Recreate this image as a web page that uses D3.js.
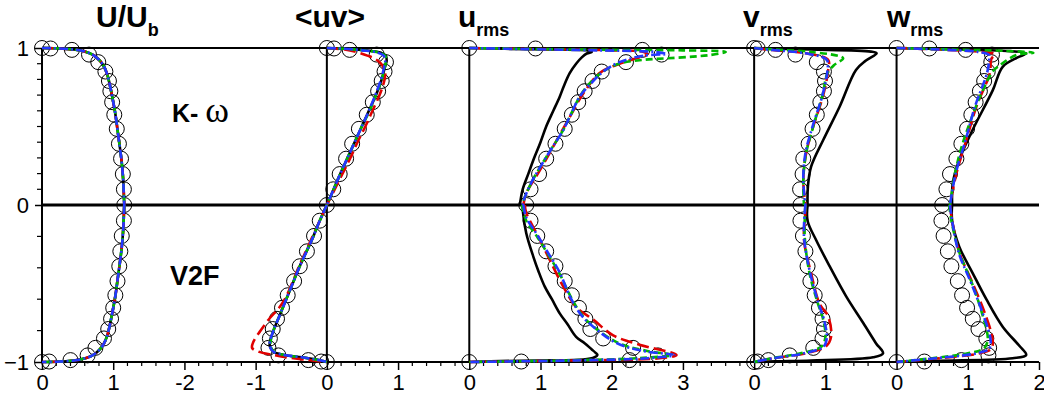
<!DOCTYPE html>
<html>
<head>
<meta charset="utf-8">
<script src="https://cdn.jsdelivr.net/npm/d3@7"></script>
<style>
  body { margin: 0; background: #fff; }
  text { font-family: "Liberation Sans", Arial, sans-serif; }
</style>
</head>
<body>
<div id="chart"></div>
<script>
var width = 1044, height = 403;

// wall-normal positions of the DNS samples (upper half / lower half)
var yDnsTop = [1, 0.997, 0.988, 0.958, 0.91, 0.85, 0.79, 0.725, 0.655, 0.575, 0.485, 0.39, 0.295, 0.197, 0.1, 0];
var yDnsBot = [-1, -0.997, -0.988, -0.958, -0.91, -0.85, -0.79, -0.725, -0.655, -0.575, -0.485, -0.39, -0.295, -0.197, -0.1];

// panel zero positions on the shared x axis
var panelOffsets = [0, 4, 6, 10, 12];
var tickLabels = ['0', '1', '-2', '-1', '0', '1', '0', '1', '2', '3', '0', '1', '0', '1', '2'];
var yMinorTicks = [0.1, 0.2, 0.3, 0.4, 0.5, 0.6, 0.7, 0.8, 0.9, -0.2, -0.4, -0.6, -0.8];

// ---- U/Ub ----
var uDnsTop = [0, 0.12, 0.42, 0.66, 0.79, 0.89, 0.94, 0.96, 0.985, 1.015, 1.05, 1.08, 1.11, 1.135, 1.15, 1.155];
var uDnsBot = [0, 0.1, 0.4, 0.64, 0.75, 0.87, 0.93, 0.97, 1.0, 1.03, 1.06, 1.085, 1.10, 1.12, 1.15];
var uModTop = [[0, 1], [0.2, 0.998], [0.45, 0.99], [0.62, 0.975], [0.72, 0.955], [0.8, 0.925], [0.86, 0.89], [0.91, 0.84], [0.95, 0.77], [0.99, 0.68], [1.03, 0.58], [1.06, 0.48], [1.09, 0.38], [1.12, 0.27], [1.14, 0.16], [1.15, 0.06], [1.155, 0]];
var uModBot = [[1.155, 0], [1.15, -0.06], [1.14, -0.16], [1.12, -0.27], [1.09, -0.38], [1.06, -0.48], [1.03, -0.58], [0.99, -0.68], [0.95, -0.77], [0.91, -0.84], [0.86, -0.89], [0.8, -0.925], [0.72, -0.955], [0.62, -0.975], [0.45, -0.99], [0.2, -0.998], [0, -1]];

// ---- <uv> ----
var uvDnsTop = [0, 0.1, 0.32, 0.70, 0.83, 0.81, 0.77, 0.72, 0.645, 0.56, 0.45, 0.355, 0.27, 0.18, 0.09, 0];
var uvDnsBot = [0, -0.08, -0.26, -0.68, -0.82, -0.80, -0.76, -0.70, -0.63, -0.55, -0.46, -0.38, -0.28, -0.18, -0.1];
var uvBlackTop = [[0, 1], [0.25, 0.995], [0.55, 0.985], [0.76, 0.97], [0.83, 0.95], [0.84, 0.92], [0.81, 0.87], [0.77, 0.8], [0.69, 0.7], [0.59, 0.6], [0.49, 0.5], [0.39, 0.4], [0.29, 0.3], [0.19, 0.2], [0.095, 0.1], [0, 0]];
var uvRedTop = [[0, 1], [0.25, 0.99], [0.45, 0.97], [0.58, 0.95], [0.68, 0.93], [0.76, 0.9], [0.8, 0.87], [0.82, 0.83], [0.8, 0.78], [0.74, 0.7], [0.64, 0.6], [0.54, 0.5], [0.43, 0.4], [0.33, 0.3], [0.22, 0.2], [0.11, 0.1], [0, 0]];
var uvGreenTop = [[0, 1], [0.25, 0.995], [0.52, 0.985], [0.74, 0.97], [0.82, 0.95], [0.83, 0.92], [0.81, 0.87], [0.77, 0.8], [0.69, 0.7], [0.6, 0.6], [0.49, 0.5], [0.39, 0.4], [0.29, 0.3], [0.19, 0.2], [0.095, 0.1], [0, 0]];
var uvBlueTop = [[0, 1], [0.25, 0.995], [0.5, 0.985], [0.72, 0.97], [0.8, 0.95], [0.82, 0.92], [0.8, 0.87], [0.76, 0.8], [0.68, 0.7], [0.59, 0.6], [0.49, 0.5], [0.39, 0.4], [0.29, 0.3], [0.19, 0.2], [0.095, 0.1], [0, 0]];
var uvBlackBot = [[0, 0], [-0.1, -0.1], [-0.19, -0.2], [-0.29, -0.3], [-0.39, -0.4], [-0.48, -0.5], [-0.57, -0.6], [-0.66, -0.7], [-0.75, -0.8], [-0.8, -0.87], [-0.8, -0.9], [-0.75, -0.935], [-0.6, -0.955], [-0.35, -0.97], [-0.15, -0.985], [0, -1]];
var uvRedBot = [[0, 0], [-0.1, -0.1], [-0.2, -0.2], [-0.3, -0.3], [-0.4, -0.4], [-0.49, -0.5], [-0.59, -0.6], [-0.68, -0.66], [-0.8, -0.72], [-0.93, -0.8], [-1.03, -0.87], [-1.05, -0.91], [-0.96, -0.934], [-0.75, -0.955], [-0.57, -0.97], [-0.3, -0.985], [0, -1]];
var uvGreenBot = [[0, 0], [-0.1, -0.1], [-0.19, -0.2], [-0.29, -0.3], [-0.39, -0.4], [-0.48, -0.5], [-0.57, -0.6], [-0.66, -0.7], [-0.75, -0.8], [-0.79, -0.87], [-0.79, -0.9], [-0.74, -0.935], [-0.6, -0.955], [-0.36, -0.97], [-0.15, -0.985], [0, -1]];
var uvBlueBot = [[0, 0], [-0.1, -0.1], [-0.19, -0.2], [-0.29, -0.3], [-0.39, -0.4], [-0.48, -0.5], [-0.57, -0.6], [-0.66, -0.7], [-0.75, -0.8], [-0.8, -0.87], [-0.8, -0.9], [-0.75, -0.935], [-0.6, -0.955], [-0.35, -0.97], [-0.15, -0.985], [0, -1]];

// ---- u_rms ----
var urmsDnsTop = [0, 0.93, 2.43, 2.70, 2.2, 1.86, 1.73, 1.62, 1.53, 1.44, 1.34, 1.21, 1.08, 0.98, 0.86, 0.80];
var urmsDnsBot = [0, 0.73, 2.25, 2.65, 2.3, 1.88, 1.70, 1.63, 1.54, 1.44, 1.34, 1.21, 1.08, 0.955, 0.86];
var urmsBlackTop = [[0, 1], [0.5, 0.995], [1.2, 0.99], [1.7, 0.982], [1.72, 0.975], [1.65, 0.965], [1.58, 0.94], [1.5, 0.9], [1.41, 0.84], [1.33, 0.76], [1.27, 0.69], [1.18, 0.6], [1.08, 0.5], [1.0, 0.4], [0.92, 0.31], [0.83, 0.2], [0.75, 0.1], [0.71, 0]];
var urmsRedTop = [[0, 1], [1.0, 0.993], [2.0, 0.985], [2.45, 0.975], [2.5, 0.96], [2.35, 0.935], [2.11, 0.9], [1.83, 0.84], [1.6, 0.71], [1.41, 0.56], [1.2, 0.39], [0.99, 0.22], [0.8, 0.074], [0.76, 0]];
var urmsGreenTop = [[0, 1], [1.0, 0.993], [2.0, 0.988], [3.0, 0.985], [3.6, 0.975], [3.38, 0.955], [3.14, 0.945], [2.77, 0.934], [2.44, 0.924], [2.1, 0.9], [1.88, 0.85], [1.7, 0.78], [1.55, 0.69], [1.43, 0.58], [1.31, 0.47], [1.17, 0.37], [1.02, 0.26], [0.88, 0.15], [0.78, 0.05], [0.74, 0]];
var urmsBlueTop = [[0, 1], [0.8, 0.993], [1.8, 0.985], [2.6, 0.975], [2.77, 0.962], [2.46, 0.952], [2.11, 0.91], [1.88, 0.85], [1.71, 0.775], [1.55, 0.69], [1.43, 0.58], [1.31, 0.47], [1.17, 0.37], [1.02, 0.26], [0.88, 0.15], [0.78, 0.05], [0.75, 0]];
var urmsBlackBot = [[0.75, 0], [0.755, -0.05], [0.80, -0.18], [0.90, -0.33], [0.97, -0.42], [1.06, -0.52], [1.16, -0.6], [1.27, -0.69], [1.38, -0.76], [1.50, -0.84], [1.62, -0.88], [1.72, -0.92], [1.77, -0.94], [1.80, -0.955], [1.76, -0.97], [1.6, -0.985], [1.0, -0.99], [0.3, -0.995], [0, -1]];
var urmsRedBot = [[0.78, 0], [0.80, -0.05], [0.99, -0.22], [1.13, -0.35], [1.32, -0.52], [1.50, -0.65], [1.74, -0.73], [2.02, -0.83], [2.39, -0.89], [2.91, -0.955], [2.67, -0.976], [1.5, -0.99], [0.5, -0.997], [0, -1]];
var urmsGreenBot = [[0.74, 0], [0.8, -0.1], [0.95, -0.2], [1.1, -0.31], [1.27, -0.44], [1.42, -0.58], [1.58, -0.7], [1.76, -0.78], [2.1, -0.88], [2.5, -0.93], [2.85, -0.955], [2.4, -0.975], [1.4, -0.99], [0.5, -0.997], [0, -1]];
var urmsBlueBot = [[0.76, 0], [0.8, -0.08], [0.94, -0.18], [1.1, -0.3], [1.27, -0.43], [1.41, -0.58], [1.57, -0.7], [1.74, -0.775], [2.07, -0.88], [2.49, -0.934], [2.88, -0.955], [2.5, -0.976], [1.5, -0.99], [0.5, -0.997], [0, -1]];

// ---- v_rms ----
var vrmsDnsTop = [0, 0.05, 0.30, 0.58, 0.88, 0.98, 0.995, 0.98, 0.93, 0.88, 0.82, 0.765, 0.69, 0.68, 0.645, 0.65];
var vrmsDnsBot = [0, 0.05, 0.2, 0.5, 0.83, 0.96, 0.98, 0.96, 0.91, 0.85, 0.79, 0.75, 0.72, 0.685, 0.65];
var vrmsBlackTop = [[0, 1], [0.3, 0.995], [0.8, 0.99], [1.64, 0.977], [1.72, 0.966], [1.57, 0.92], [1.43, 0.86], [1.2, 0.626], [0.97, 0.414], [0.80, 0.244], [0.755, 0.117], [0.75, 0]];
var vrmsRedTop = [[0, 1], [0.26, 0.987], [0.73, 0.966], [1.04, 0.924], [1.04, 0.86], [0.97, 0.7], [0.83, 0.5], [0.73, 0.33], [0.69, 0.16], [0.72, 0]];
var vrmsGreenTop = [[0, 1], [0.3, 0.99], [0.8, 0.975], [1.25, 0.935], [1.12, 0.89], [1.03, 0.84], [0.96, 0.7], [0.83, 0.5], [0.73, 0.33], [0.69, 0.16], [0.7, 0]];
var vrmsBlueTop = [[0, 1], [0.26, 0.987], [0.72, 0.966], [1.02, 0.924], [1.03, 0.86], [0.96, 0.7], [0.82, 0.5], [0.72, 0.33], [0.69, 0.16], [0.72, 0]];
var vrmsBlackBot = [[0.75, 0], [0.75, -0.1], [0.87, -0.223], [1.06, -0.39], [1.29, -0.58], [1.53, -0.75], [1.71, -0.88], [1.81, -0.945], [1.67, -0.97], [0.8, -0.99], [0.3, -0.995], [0, -1]];
var vrmsRedBot = [[0.72, 0], [0.72, -0.04], [0.70, -0.22], [0.80, -0.435], [0.92, -0.63], [1.04, -0.71], [1.08, -0.84], [1.01, -0.9], [0.72, -0.945], [0.26, -0.976], [0, -1]];
var vrmsGreenBot = [[0.72, 0], [0.71, -0.2], [0.78, -0.44], [0.89, -0.62], [0.97, -0.73], [1.0, -0.84], [0.95, -0.9], [0.65, -0.945], [0.25, -0.976], [0, -1]];
var vrmsBlueBot = [[0.72, 0], [0.70, -0.2], [0.79, -0.44], [0.9, -0.62], [0.98, -0.73], [1.02, -0.84], [0.98, -0.9], [0.7, -0.945], [0.26, -0.976], [0, -1]];

// ---- w_rms ----
var wrmsDnsTop = [0, 0.46, 0.97, 1.34, 1.33, 1.28, 1.23, 1.17, 1.11, 1.05, 0.99, 0.91, 0.84, 0.75, 0.70, 0.64];
var wrmsDnsBot = [0, 0.39, 0.91, 1.29, 1.30, 1.26, 1.15, 1.07, 0.99, 0.92, 0.86, 0.77, 0.72, 0.66, 0.63];
var wrmsBlackTop = [[0, 1], [0.5, 0.995], [1.6, 0.98], [1.82, 0.966], [1.7, 0.94], [1.49, 0.88], [1.35, 0.73], [1.07, 0.48], [0.88, 0.287], [0.79, 0.14], [0.78, 0]];
var wrmsRedTop = [[0, 1], [0.6, 0.99], [1.2, 0.975], [1.38, 0.96], [1.33, 0.93], [1.31, 0.84], [1.12, 0.626], [0.98, 0.414], [0.84, 0.2], [0.75, 0]];
var wrmsGreenTop = [[0, 1], [0.8, 0.99], [1.5, 0.982], [1.92, 0.97], [1.68, 0.955], [1.45, 0.89], [1.35, 0.85], [1.2, 0.72], [1.05, 0.55], [0.92, 0.38], [0.82, 0.2], [0.75, 0]];
var wrmsBlueTop = [[0, 1], [0.6, 0.99], [1.15, 0.975], [1.3, 0.955], [1.3, 0.92], [1.27, 0.84], [1.1, 0.626], [0.97, 0.414], [0.83, 0.2], [0.75, 0]];
var wrmsBlackBot = [[0.78, 0], [0.78, -0.1], [0.88, -0.265], [1.07, -0.435], [1.26, -0.6], [1.49, -0.775], [1.73, -0.9], [1.82, -0.955], [1.63, -0.976], [0.6, -0.992], [0, -1]];
var wrmsRedBot = [[0.75, 0], [0.78, -0.1], [0.88, -0.3], [1.07, -0.5], [1.24, -0.69], [1.35, -0.86], [1.33, -0.915], [1.16, -0.945], [0.6, -0.976], [0, -1]];
var wrmsGreenBot = [[0.74, 0], [0.77, -0.1], [0.88, -0.3], [1.06, -0.5], [1.2, -0.69], [1.28, -0.86], [1.22, -0.915], [1.0, -0.945], [0.5, -0.976], [0, -1]];
var wrmsBlueBot = [[0.75, 0], [0.78, -0.1], [0.87, -0.3], [1.05, -0.5], [1.21, -0.69], [1.32, -0.86], [1.3, -0.915], [1.12, -0.945], [0.55, -0.976], [0, -1]];

var panels = [
  {off: panelOffsets[0], dnsTop: uDnsTop, dnsBot: uDnsBot,
   top: [uModTop, uModTop, uModTop, uModTop], bot: [uModBot, uModBot, uModBot, uModBot]},
  {off: panelOffsets[1], dnsTop: uvDnsTop, dnsBot: uvDnsBot,
   top: [uvBlackTop, uvRedTop, uvGreenTop, uvBlueTop], bot: [uvBlackBot, uvRedBot, uvGreenBot, uvBlueBot]},
  {off: panelOffsets[2], dnsTop: urmsDnsTop, dnsBot: urmsDnsBot,
   top: [urmsBlackTop, urmsRedTop, urmsGreenTop, urmsBlueTop], bot: [urmsBlackBot, urmsRedBot, urmsGreenBot, urmsBlueBot]},
  {off: panelOffsets[3], dnsTop: vrmsDnsTop, dnsBot: vrmsDnsBot,
   top: [vrmsBlackTop, vrmsRedTop, vrmsGreenTop, vrmsBlueTop], bot: [vrmsBlackBot, vrmsRedBot, vrmsGreenBot, vrmsBlueBot]},
  {off: panelOffsets[4], dnsTop: wrmsDnsTop, dnsBot: wrmsDnsBot,
   top: [wrmsBlackTop, wrmsRedTop, wrmsGreenTop, wrmsBlueTop], bot: [wrmsBlackBot, wrmsRedBot, wrmsGreenBot, wrmsBlueBot]}
];

// black solid, red long dash, green dash, blue dash-dot
var lineStyles = [
  {color: '#000000', dash: null},
  {color: '#e00000', dash: '12,5'},
  {color: '#00b800', dash: '7,4'},
  {color: '#2438ff', dash: '9,3,2,3'}
];

var svg = d3.select('#chart').append('svg')
  .attr('width', width)
  .attr('height', height)
  .style('background', '#fff');

var x = d3.scaleLinear().domain([0, 14]).range([42, 1039]);
var y = d3.scaleLinear().domain([-1, 1]).range([362, 48]);

// frame lines
var frame = svg.append('g').attr('stroke', '#000').attr('fill', 'none');
frame.append('line').attr('x1', x(0)).attr('x2', x(14)).attr('y1', y(1)).attr('y2', y(1)).attr('stroke-width', 2);
frame.append('line').attr('x1', x(0)).attr('x2', x(14)).attr('y1', y(0)).attr('y2', y(0)).attr('stroke-width', 3);
panelOffsets.forEach(function(o) {
  frame.append('line').attr('x1', x(o)).attr('x2', x(o)).attr('y1', y(1)).attr('y2', y(-1)).attr('stroke-width', 2);
});

// bottom axis
var xAxis = d3.axisBottom(x)
  .tickValues(d3.range(0, 15))
  .tickSize(8)
  .tickPadding(4)
  .tickFormat(function(d, i) { return tickLabels[i]; });
var gx = svg.append('g').attr('transform', 'translate(0,' + y(-1) + ')').call(xAxis);
gx.select('.domain').attr('stroke-width', 2).attr('d', 'M' + x(0) + ',0H' + x(14));
gx.selectAll('.tick line').attr('stroke-width', 1.5);
gx.selectAll('.tick text').attr('font-size', 22).attr('font-family', '"Liberation Sans", Arial, sans-serif');

var minorX = d3.range(0, 70).filter(function(i) { return i % 5 !== 0; }).map(function(i) { return i / 5; });
gx.selectAll('.minor').data(minorX).enter().append('line')
  .attr('x1', function(d) { return x(d); }).attr('x2', function(d) { return x(d); })
  .attr('y1', 0).attr('y2', 4)
  .attr('stroke', '#000').attr('stroke-width', 1.2);

// left axis
var yAxis = d3.axisLeft(y)
  .tickValues([1, 0, -1])
  .tickSize(7)
  .tickPadding(6)
  .tickFormat(d3.format('d'));
var gy = svg.append('g').attr('transform', 'translate(' + x(0) + ',0)').call(yAxis);
gy.select('.domain').remove();
gy.selectAll('.tick line').attr('stroke-width', 1.5);
gy.selectAll('.tick text').attr('font-size', 22).attr('font-family', '"Liberation Sans", Arial, sans-serif');
gy.selectAll('.minor').data(yMinorTicks).enter().append('line')
  .attr('x1', -5).attr('x2', 0)
  .attr('y1', function(d) { return y(d); }).attr('y2', function(d) { return y(d); })
  .attr('stroke', '#000').attr('stroke-width', 1.2);

// data
var line = d3.line()
  .curve(d3.curveCatmullRom.alpha(0.5));

panels.forEach(function(p) {
  var g = svg.append('g');
  var pts = yDnsTop.map(function(yy, i) { return [p.dnsTop[i], yy]; })
    .concat(yDnsBot.map(function(yy, i) { return [p.dnsBot[i], yy]; }));
  g.selectAll('circle').data(pts).enter().append('circle')
    .attr('cx', function(d) { return x(p.off + d[0]); })
    .attr('cy', function(d) { return y(d[1]); })
    .attr('r', 7.5)
    .attr('fill', 'none')
    .attr('stroke', '#000')
    .attr('stroke-width', 1);

  lineStyles.forEach(function(s, k) {
    [p.top[k], p.bot[k]].forEach(function(data) {
      line.x(function(d) { return x(p.off + d[0]); })
          .y(function(d) { return y(d[1]); });
      g.append('path')
        .attr('d', line(data))
        .attr('fill', 'none')
        .attr('stroke', s.color)
        .attr('stroke-width', 2.6)
        .attr('stroke-dasharray', s.dash);
    });
  });
});

// titles
function title(x0, main, sub) {
  var t = svg.append('text').attr('x', x0).attr('y', 27)
    .attr('font-weight', 'bold').attr('font-size', 30);
  t.append('tspan').text(main);
  if (sub) t.append('tspan').attr('font-size', 18).attr('dy', 9).text(sub);
}
title(96, 'U/U', 'b');
title(295, '<uv>');
title(458, 'u', 'rms');
title(743, 'v', 'rms');
title(887, 'w', 'rms');

var kw = svg.append('text').attr('x', 172).attr('y', 122).attr('font-weight', 'bold').attr('font-size', 25);
kw.append('tspan').text('K- ');
kw.append('tspan').attr('font-family', '"Liberation Serif", "DejaVu Serif", serif')
  .attr('font-weight', 'normal').attr('font-size', 36).text('ω');

svg.append('text').attr('x', 170).attr('y', 285)
  .attr('font-weight', 'bold').attr('font-size', 27).text('V2F');
</script>
</body>
</html>
